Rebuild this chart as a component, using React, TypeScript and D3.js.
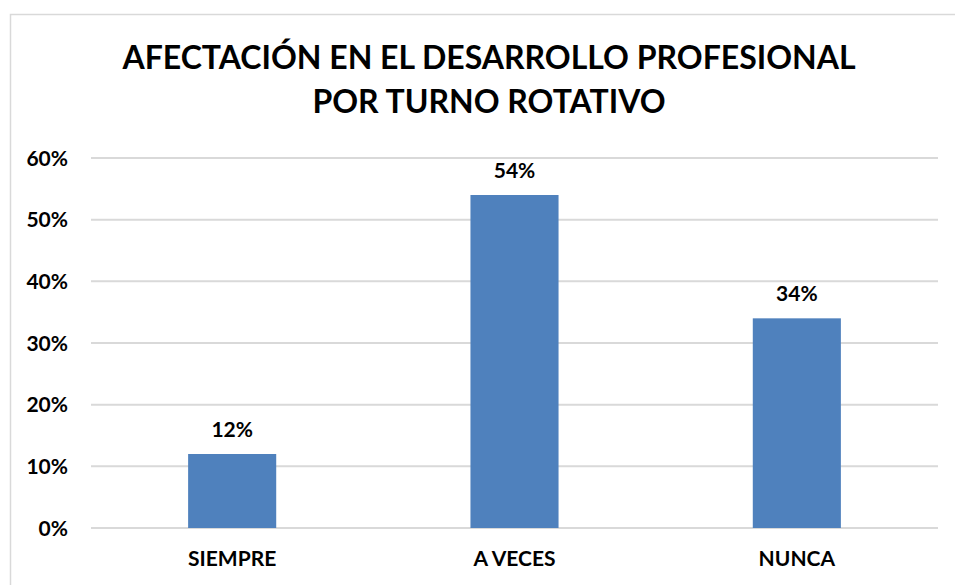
import React from "react";
import * as d3 from "d3";

const categories = ["SIEMPRE", "A VECES", "NUNCA"];
const values = [0.12, 0.54, 0.34];
const yTicks = [0, 0.1, 0.2, 0.3, 0.4, 0.5, 0.6];
const titleLines = ["AFECTACIÓN EN EL DESARROLLO PROFESIONAL", "POR TURNO ROTATIVO"];

const W = 955;
const H = 585;
const FONT = "Lato, 'Open Sans', sans-serif";

export default function App() {
  const x = d3.scaleBand<string>().domain(categories).range([91, 938]).padding(0);
  const y = d3.scaleLinear().domain([0, 0.6]).range([528, 158]);
  const barW = x.bandwidth() * 0.312;
  const fmt = d3.format(".0%");
  return (
    <svg width={W} height={H} style={{ position: "absolute", left: 0, top: 0, background: "#fff" }}>
      <rect x={10.5} y={14.5} width={980} height={600} fill="#fff" stroke="#d9d9d9" strokeWidth={1.5} />
      {titleLines.map((t, i) => (
        <text key={i} x={489} y={69 + i * 44} textAnchor="middle" fontFamily={FONT} fontWeight={700} fontSize={32} fill="#000">
          {t}
        </text>
      ))}
      {yTicks.map((t) => (
        <g key={t}>
          <line x1={91} x2={938} y1={y(t)} y2={y(t)} stroke="#d9d9d9" strokeWidth={2} />
          <text x={68} y={y(t) + 7.5} textAnchor="end" fontFamily={FONT} fontWeight={700} fontSize={21} fill="#000">
            {fmt(t)}
          </text>
        </g>
      ))}
      {categories.map((c, i) => {
        const cx = (x(c) as number) + x.bandwidth() / 2;
        return (
          <g key={c}>
            <rect x={cx - barW / 2} y={y(values[i])} width={barW} height={y(0) - y(values[i])} fill="#4f81bd" />
            <text x={cx} y={y(values[i]) - 17} textAnchor="middle" fontFamily={FONT} fontWeight={700} fontSize={21} fill="#000">
              {fmt(values[i])}
            </text>
            <text x={cx} y={566} textAnchor="middle" fontFamily={FONT} fontWeight={700} fontSize={21} fill="#000">
              {c}
            </text>
          </g>
        );
      })}
    </svg>
  );
}
